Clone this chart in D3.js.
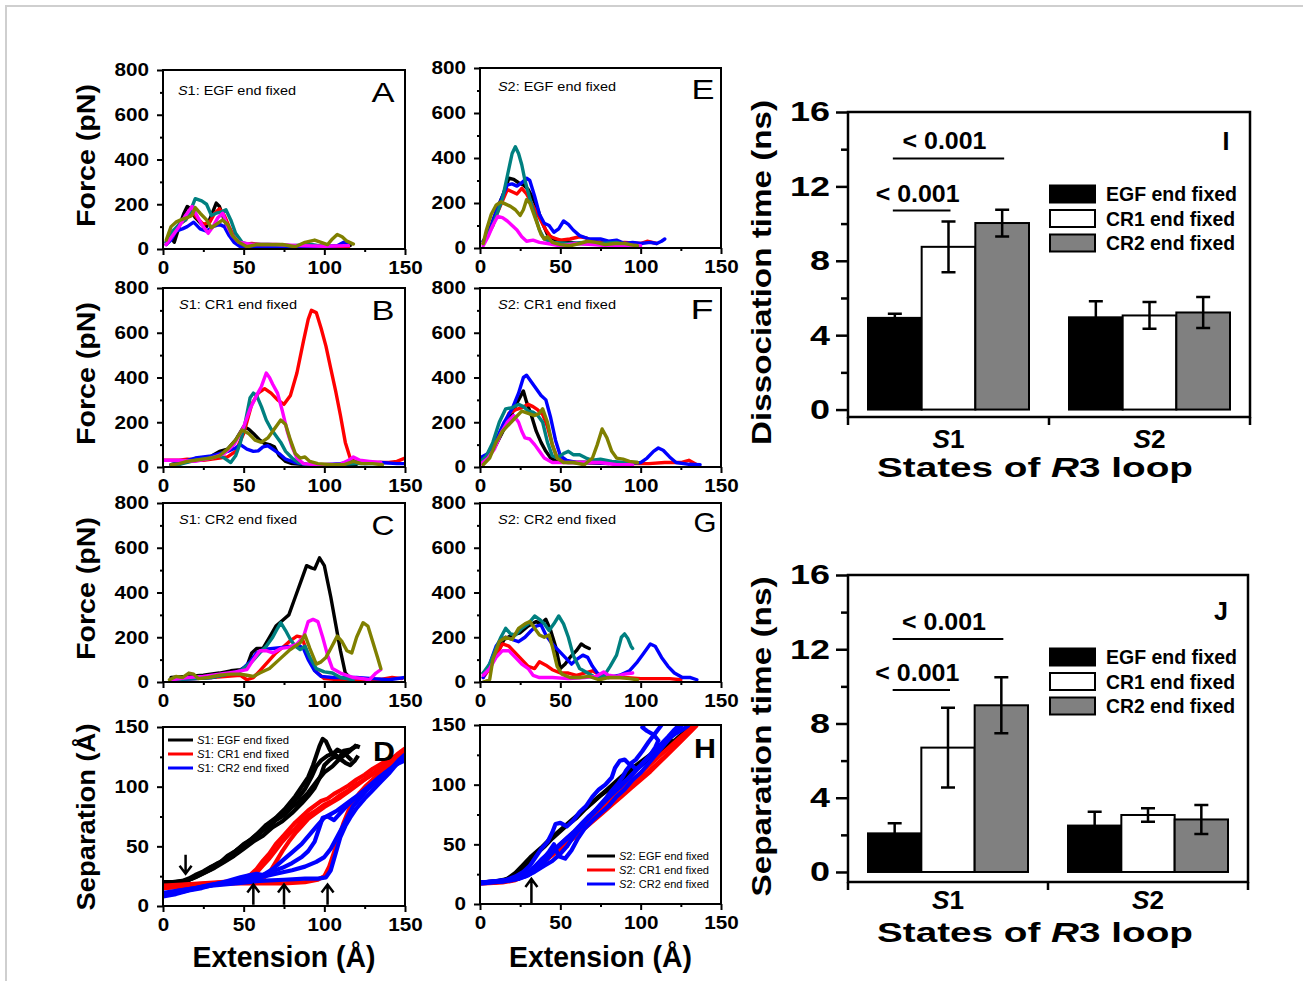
<!DOCTYPE html>
<html>
<head>
<meta charset="utf-8">
<script src="https://cdn.jsdelivr.net/npm/d3@7"></script>
<style>
  body { margin: 0; background: #fff; }
</style>
</head>
<body>
<svg id="fig" width="1303" height="981"></svg>
<script>
// ---------- data ----------
// force-extension traces, flat [x, y, x, y, ...], runs 1..6 in each panel
const forceA = [
  [2,30, 5,50, 7,30, 10,100, 13,160, 15,190, 17,180, 20,140, 24,110, 27,100, 30,150, 33,205, 35,190, 38,130, 41,80, 45,40, 48,20, 55,10, 70,12, 85,10, 100,12, 112,10, 116,15],
  [2,20, 6,70, 10,110, 14,130, 18,170, 21,140, 25,110, 29,120, 32,160, 35,180, 38,150, 41,100, 45,40, 50,20, 55,25, 65,15, 80,12, 95,10, 110,10, 115,12],
  [2,20, 5,40, 8,80, 12,90, 15,100, 19,120, 23,90, 27,80, 31,100, 35,110, 38,100, 41,60, 44,30, 48,10, 60,5, 80,8, 100,10, 108,15, 112,30, 115,20],
  [2,30, 6,80, 10,110, 14,130, 17,170, 20,225, 24,215, 27,200, 30,150, 33,160, 36,165, 39,175, 42,130, 45,70, 49,30, 53,20, 65,20, 80,15, 92,20, 100,10],
  [2,20, 6,60, 10,100, 14,150, 18,190, 21,150, 24,110, 28,70, 31,100, 34,140, 37,160, 40,100, 43,60, 47,30, 55,20, 70,20, 85,15, 100,12, 115,15],
  [2,40, 5,100, 8,120, 11,130, 15,140, 18,150, 20,185, 23,160, 27,130, 30,95, 33,110, 37,130, 40,110, 43,60, 47,30, 52,10, 58,20, 66,20, 74,20, 82,10, 88,30, 94,40, 98,30, 102,20, 105,45, 108,65, 111,55, 114,35, 118,22]
];
const forceB = [
  [5,10, 12,20, 20,30, 28,40, 35,70, 40,80, 45,120, 50,180, 53,170, 56,150, 60,120, 63,105, 66,100, 69,90, 72,50, 76,25, 80,15, 90,10, 105,10, 120,12],
  [0,30, 10,30, 15,35, 25,30, 35,40, 40,45, 45,70, 50,150, 55,280, 59,330, 63,350, 67,330, 71,300, 75,280, 79,320, 83,420, 87,560, 90,660, 92,700, 95,690, 98,620, 101,540, 104,440, 107,340, 110,230, 113,110, 116,40, 120,20, 130,20, 140,20, 145,25, 150,40],
  [5,10, 15,30, 20,40, 25,45, 30,50, 35,60, 40,70, 45,85, 48,100, 52,80, 56,70, 59,72, 62,90, 65,95, 68,80, 72,60, 76,35, 82,20, 90,10, 100,10, 110,15, 118,25, 125,15, 135,20, 145,15, 150,15],
  [5,0, 12,15, 20,30, 28,40, 35,50, 38,40, 42,20, 45,50, 48,110, 51,200, 54,310, 56,330, 58,320, 61,270, 64,210, 67,170, 70,140, 73,110, 76,70, 80,40, 84,20, 90,10, 105,10, 120,15, 135,15],
  [0,30, 10,30, 20,25, 30,40, 38,60, 44,100, 50,180, 54,260, 58,320, 61,360, 64,420, 66,400, 68,370, 71,330, 74,250, 77,160, 80,90, 83,40, 87,15, 95,10, 110,12, 115,30, 118,45, 122,30, 128,25, 135,20],
  [5,10, 10,15, 15,25, 20,30, 25,35, 30,40, 35,50, 40,80, 45,120, 49,165, 53,150, 57,120, 61,110, 65,130, 69,170, 73,210, 76,190, 79,120, 82,60, 85,40, 88,45, 91,25, 96,15, 105,10, 112,10, 118,25, 123,15, 130,15, 136,10]
];
const forceC = [
  [5,20, 15,25, 25,30, 35,40, 42,50, 48,55, 52,70, 55,130, 58,150, 62,150, 66,200, 70,250, 74,275, 78,300, 82,380, 86,460, 89,520, 92,510, 94,505, 97,555, 100,520, 102,450, 104,380, 107,260, 110,140, 113,40, 117,10],
  [5,10, 20,15, 30,20, 40,25, 48,30, 52,10, 56,20, 60,50, 65,90, 70,130, 75,160, 79,185, 83,205, 86,200, 88,160, 91,100, 95,45, 100,15, 110,10, 125,10, 135,12, 142,20, 148,15],
  [5,10, 20,15, 30,20, 40,35, 48,50, 54,90, 58,130, 62,145, 68,150, 74,155, 80,160, 84,165, 87,150, 90,100, 94,50, 98,25, 105,20, 120,20, 130,15, 140,10, 150,20],
  [5,10, 20,15, 30,20, 40,35, 48,50, 55,90, 60,130, 64,160, 68,200, 71,240, 73,265, 76,230, 79,190, 82,160, 85,145, 88,160, 91,110, 95,60, 100,45, 105,40, 110,20, 118,10],
  [5,10, 15,20, 25,25, 35,35, 45,45, 52,55, 56,100, 60,140, 64,140, 68,130, 73,150, 78,155, 83,170, 87,200, 90,270, 93,280, 96,270, 99,200, 102,120, 105,60, 110,40, 118,20, 124,15, 128,10, 132,40, 135,55],
  [4,10, 8,25, 12,20, 16,40, 19,35, 22,15, 28,20, 35,30, 42,35, 48,35, 52,30, 56,25, 60,40, 66,60, 72,100, 78,140, 82,160, 85,175, 88,210, 91,150, 95,80, 98,90, 101,110, 104,150, 108,205, 111,180, 114,140, 117,130, 120,200, 124,265, 127,250, 130,180, 133,110, 135,60]
];
const forceE = [
  [2,30, 5,60, 8,120, 11,180, 14,230, 18,310, 21,305, 24,290, 27,280, 30,260, 33,220, 36,170, 39,110, 42,60, 46,40, 52,30, 60,20, 70,20],
  [2,20, 5,60, 8,100, 11,160, 14,210, 17,260, 20,250, 23,240, 26,265, 29,240, 32,200, 35,160, 38,120, 41,80, 44,50, 50,35, 56,40, 62,50, 66,45, 70,30, 80,20, 90,25, 100,20, 104,30, 110,20],
  [2,30, 6,80, 10,160, 14,230, 17,280, 20,285, 23,275, 26,290, 29,310, 31,300, 34,230, 37,150, 40,110, 43,100, 46,70, 49,85, 52,120, 55,105, 58,80, 62,55, 68,40, 75,40, 80,30, 85,35, 90,20, 95,25, 100,20, 106,25, 110,20, 113,30, 115,40],
  [2,20, 5,60, 8,100, 11,160, 14,220, 17,320, 20,420, 22,450, 24,420, 26,370, 28,300, 31,220, 34,150, 37,80, 40,40, 45,25, 55,20, 65,25, 75,20, 85,25, 92,10],
  [2,10, 5,50, 8,100, 11,140, 14,135, 17,120, 20,100, 23,80, 26,50, 29,30, 33,35, 37,25, 42,20, 50,10, 60,20, 70,15, 80,10, 90,12, 100,10],
  [2,20, 4,80, 7,150, 10,190, 13,205, 16,195, 19,185, 22,170, 25,145, 27,170, 29,215, 31,200, 33,160, 36,100, 38,60, 40,40, 42,50, 45,25, 50,15, 56,10, 62,20, 67,30, 72,25, 78,15, 84,20, 90,20, 96,12, 98,10]
];
const forceF = [
  [0,20, 5,40, 10,100, 15,170, 20,240, 24,300, 27,340, 29,290, 32,230, 35,160, 38,110, 41,70, 44,40, 48,25, 55,20, 65,20, 80,15],
  [0,30, 5,50, 10,100, 14,170, 18,240, 22,255, 26,265, 30,280, 33,270, 36,255, 39,235, 42,180, 45,100, 48,40, 52,25, 60,20, 75,20, 90,15, 105,15, 115,20, 125,20, 130,30, 135,10],
  [0,40, 5,60, 10,120, 15,200, 20,260, 24,330, 27,400, 29,410, 32,380, 35,350, 38,320, 41,300, 44,220, 47,120, 50,50, 54,30, 60,20, 70,20, 85,15, 100,20, 104,40, 108,70, 111,85, 114,75, 118,45, 122,20, 130,12, 137,10],
  [0,20, 4,50, 8,110, 12,200, 16,260, 20,265, 24,280, 27,270, 30,250, 33,245, 36,230, 39,200, 42,110, 45,50, 48,40, 52,60, 55,70, 58,55, 62,55, 66,40, 70,30, 75,35, 82,25, 90,20, 98,20],
  [0,10, 5,40, 9,80, 13,150, 17,200, 21,230, 24,200, 26,160, 28,130, 31,125, 34,100, 37,70, 40,40, 45,20, 55,20, 65,20, 75,20, 85,10, 95,10],
  [2,10, 6,40, 10,110, 14,160, 18,190, 22,220, 26,250, 30,240, 34,230, 37,240, 39,260, 42,200, 45,100, 48,40, 52,20, 58,20, 65,10, 70,40, 73,100, 76,170, 79,130, 82,70, 85,40, 89,35, 93,25, 98,20]
];
const forceG = [
  [2,40, 6,60, 10,120, 15,190, 20,210, 25,220, 30,250, 35,270, 38,260, 41,280, 44,230, 47,160, 50,60, 53,80, 56,110, 60,140, 63,170, 65,160, 68,150],
  [2,20, 6,60, 10,120, 14,170, 18,160, 22,130, 26,100, 30,70, 34,60, 37,90, 41,75, 45,55, 50,40, 55,40, 60,30, 65,40, 70,50, 75,30, 80,20, 90,20, 100,15, 110,15, 118,15, 125,10],
  [2,20, 6,80, 10,160, 13,190, 16,200, 20,190, 24,180, 28,200, 32,230, 35,250, 38,255, 41,210, 45,170, 49,140, 53,110, 57,80, 60,100, 64,120, 67,110, 70,70, 74,30, 80,20, 87,30, 93,50, 98,90, 102,130, 106,170, 109,160, 113,110, 117,70, 121,40, 126,20, 131,20, 135,10],
  [2,40, 6,80, 10,150, 13,200, 16,240, 19,215, 22,210, 26,240, 30,260, 34,295, 37,280, 40,260, 43,230, 46,260, 49,295, 52,260, 55,200, 58,120, 62,60, 67,40, 72,20, 77,25, 81,70, 85,120, 88,200, 90,215, 92,195, 94,160, 95,150],
  [2,30, 6,60, 10,110, 14,140, 18,140, 22,110, 26,80, 30,60, 33,30, 37,20, 45,20, 55,15, 65,20, 72,25, 77,45, 80,30, 85,25, 90,35, 95,40],
  [2,0, 6,10, 8,100, 12,180, 16,200, 20,190, 24,240, 28,260, 31,270, 34,240, 37,210, 40,200, 43,210, 45,160, 48,70, 51,35, 56,20, 62,20, 68,25, 74,10, 80,20, 87,20, 93,15, 98,10]
];

// separation-extension traces (D: S1, H: S2)
const sepD_EGF = [
  [0,20, 6,20, 12,21, 16,23, 20,26, 25,29, 30,33, 35,36, 40,42, 45,46, 50,52, 55,56, 60,62, 65,66, 70,72, 75,76, 80,83, 85,88, 90,95, 95,104, 100,112, 105,117, 110,124, 115,129, 120,135],
  [0,19, 8,20, 14,21, 20,24, 26,28, 32,32, 38,37, 44,42, 50,48, 56,54, 62,59, 68,66, 74,71, 80,78, 86,86, 90,92, 94,99, 98,110, 100,118, 103,122, 106,125, 109,124, 112,130, 116,131, 120,134, 122,133],
  [0,20, 10,20, 16,22, 22,26, 28,31, 34,36, 40,40, 46,47, 52,53, 58,60, 64,68, 70,74, 76,82, 82,92, 86,100, 90,108, 93,118, 95,126, 97,134, 99,140, 101,138, 103,132, 105,127, 108,131, 111,129, 114,126, 117,122],
  [0,20, 12,20, 18,23, 24,27, 30,31, 36,36, 42,43, 48,49, 54,55, 60,61, 66,68, 72,76, 78,84, 84,91, 88,98, 92,108, 95,117, 98,122, 102,126, 106,128, 110,123, 113,120, 116,118, 119,122, 121,126]
];
const sepD_CR1 = [
  [0,15, 10,16, 20,18, 30,19, 40,20, 48,22, 54,26, 58,31, 62,38, 66,44, 70,52, 74,58, 78,64, 82,70, 86,75, 90,80, 94,84, 98,88, 102,90, 106,94, 110,97, 115,101, 120,106, 125,110, 130,115, 135,119, 140,123, 145,126, 150,130],
  [0,17, 12,18, 24,19, 36,20, 46,21, 54,23, 58,28, 62,34, 66,40, 70,47, 74,54, 78,60, 82,65, 86,71, 90,76, 95,80, 100,85, 105,88, 110,93, 115,97, 120,102, 126,107, 132,112, 138,118, 144,124, 150,128],
  [0,16, 15,18, 30,19, 45,20, 56,21, 62,23, 66,28, 70,37, 74,46, 78,54, 82,61, 86,67, 90,73, 95,78, 100,83, 105,87, 110,91, 115,96, 120,101, 125,106, 130,111, 135,116, 140,121, 145,127, 150,132],
  [0,15, 15,17, 30,18, 45,19, 60,19, 75,19, 88,20, 96,22, 100,25, 103,33, 106,45, 109,57, 112,70, 115,80, 118,88, 122,95, 126,101, 130,106, 135,112, 140,118, 145,124, 148,130]
];
const sepD_CR2 = [
  [0,8, 8,10, 16,13, 24,15, 32,18, 40,21, 48,24, 54,26, 58,27, 62,26, 68,29, 74,32, 80,36, 86,41, 90,46, 94,54, 97,66, 99,74, 102,75, 106,72, 110,78, 114,84, 118,89, 123,94, 128,99, 133,106, 138,112, 144,118, 150,124],
  [0,10, 10,13, 20,15, 30,18, 40,20, 50,22, 60,24, 70,27, 80,30, 88,33, 95,37, 100,41, 104,48, 108,58, 112,68, 115,76, 118,84, 122,90, 127,98, 132,104, 137,110, 142,116, 146,122, 150,127],
  [0,9, 12,12, 24,16, 36,19, 48,22, 56,24, 62,26, 68,31, 74,38, 80,45, 86,52, 91,60, 96,68, 100,74, 104,77, 108,80, 112,84, 117,89, 122,94, 128,101, 134,108, 140,114, 145,119, 150,122],
  [0,11, 15,14, 30,17, 45,19, 60,21, 75,22, 88,23, 96,23, 101,24, 104,30, 107,44, 110,58, 113,67, 116,74, 120,82, 125,90, 130,97, 135,104, 140,111, 145,119, 150,126]
];
const sepH_EGF = [
  [0,18, 8,18, 15,20, 20,23, 25,28, 30,34, 35,42, 40,48, 45,55, 50,61, 55,67, 60,72, 65,79, 70,85, 75,91, 80,97, 85,103, 90,109, 95,114, 100,119, 105,124, 110,129, 115,134, 120,138],
  [0,18, 10,19, 17,21, 22,26, 27,33, 32,40, 38,47, 44,55, 50,62, 56,69, 62,76, 68,83, 74,90, 80,96, 86,102, 92,108, 98,114, 104,120, 110,126, 116,132, 122,138, 128,145, 132,150]
];
const sepH_CR1 = [
  [0,18, 10,18, 18,20, 24,22, 28,24, 32,28, 36,33, 40,38, 45,44, 50,50, 55,56, 60,62, 65,68, 70,74, 75,80, 80,86, 85,92, 90,98, 95,104, 100,110, 105,116, 110,122, 115,128, 120,134, 125,140, 130,146, 134,150],
  [0,18, 12,19, 20,20, 26,23, 31,27, 36,31, 42,38, 48,45, 54,52, 60,59, 66,66, 72,73, 78,80, 84,87, 90,94, 96,101, 102,108, 108,115, 114,122, 120,130, 126,138, 132,146, 135,150],
  [0,17, 14,18, 22,20, 28,24, 34,30, 40,36, 46,42, 52,48, 58,55, 64,62, 70,69, 76,76, 82,83, 88,90, 94,97, 100,104, 106,111, 112,119, 118,127, 124,135, 130,143, 135,150]
];
const sepH_CR2 = [
  [0,18, 10,19, 16,20, 22,23, 27,27, 31,32, 35,40, 38,46, 42,52, 45,60, 47,67, 50,68, 54,65, 58,70, 62,77, 66,82, 70,90, 74,96, 78,100, 82,106, 84,114, 87,120, 90,121, 93,117, 97,121, 101,128, 105,136, 109,143, 113,150],
  [0,18, 12,19, 20,20, 28,23, 34,27, 40,32, 45,36, 50,42, 54,48, 58,56, 62,63, 66,70, 70,76, 74,82, 78,88, 82,95, 86,101, 89,107, 91,112, 94,117, 97,113, 100,116, 104,122, 108,128, 112,132, 117,138, 122,143, 127,147, 130,150],
  [0,17, 14,19, 22,21, 28,25, 33,30, 38,37, 43,43, 48,48, 53,54, 58,60, 63,67, 68,74, 73,80, 78,87, 83,93, 88,99, 93,106, 98,113, 102,119, 106,125, 109,131, 111,137, 108,142, 104,145, 101,148, 102,150],
  [0,18, 15,19, 24,21, 30,24, 36,30, 42,38, 47,46, 52,52, 57,58, 62,64, 67,71, 72,78, 77,85, 82,92, 87,99, 92,105, 97,112, 102,119, 107,126, 112,133, 117,140, 121,146, 124,150],
  [0,18, 16,20, 26,23, 33,28, 38,35, 43,44, 46,50, 49,40, 53,38, 57,45, 61,55, 65,63, 70,70, 75,76, 80,82, 85,90, 90,96, 95,104, 100,110, 105,118, 110,126, 115,134, 120,142, 124,148, 126,150]
];

// arrows (extension positions, Å)
const arrowsD_down = [14];
const arrowsD_up = [56, 75, 102];
const arrowsH_up = [32];

// bar charts
const states = ["S1", "S2"];
const fixedEnds = ["EGF end fixed", "CR1 end fixed", "CR2 end fixed"];
const dissocMean = [[4.93, 8.75, 10.03], [4.96, 5.06, 5.22]];
const dissocErr  = [[0.22, 1.36, 0.72], [0.86, 0.72, 0.83]];
const sepMean    = [[2.08, 6.70, 8.98], [2.50, 3.07, 2.83]];
const sepErr     = [[0.54, 2.15, 1.51], [0.75, 0.36, 0.78]];
const dissocSig  = [13.5, 10.7];   // heights of the two "< 0.001" brackets
const sepSig     = [12.55, 9.8];

// ---------- drawing ----------
const FONT = '"Liberation Sans", Arial, Helvetica, sans-serif';
const runColors = ["#000000", "#ff0000", "#0000ff", "#008080", "#ff00ff", "#808000"];
const sepColors = ["#000000", "#ff0000", "#0000ff"];
const barFills = ["#000000", "#ffffff", "#808080"];

const svg = d3.select("#fig").attr("font-family", FONT);
svg.append("rect").attr("width", 1303).attr("height", 981).attr("fill", "#fff");
svg.append("rect").attr("x", 6).attr("y", 6).attr("width", 1320).attr("height", 1000)
  .attr("fill", "none").attr("stroke", "#cfcfcf").attr("stroke-width", 2);

const pairs = flat => d3.range(0, flat.length, 2).map(i => [flat[i], flat[i + 1]]);

// text with optional italic pieces, squeezed/stretched to a measured length
function label(parent, x, y, parts, o) {
  const t = parent.append("text")
    .attr("x", x).attr("y", y)
    .attr("font-size", o.size)
    .attr("font-weight", o.weight || "bold")
    .attr("text-anchor", o.anchor || "start")
    .attr("fill", "#000");
  if (o.len) t.attr("textLength", o.len).attr("lengthAdjust", "spacingAndGlyphs");
  if (o.rot) t.attr("transform", `rotate(${o.rot},${x},${y})`);
  (typeof parts === "string" ? [[parts, false]] : parts).forEach(p => {
    t.append("tspan").attr("font-style", p[1] ? "italic" : null).text(p[0]);
  });
  return t;
}

function styleAxis(g, size, perChar) {
  g.select(".domain").remove();
  g.attr("font-family", FONT).attr("font-size", size).attr("font-weight", "bold");
  g.selectAll("line").attr("stroke-width", 2);
  g.selectAll(".tick text").each(function (d) {
    const s = String(d);
    d3.select(this).attr("textLength", s.length * perChar).attr("lengthAdjust", "spacingAndGlyphs");
  });
}

let clipId = 0;
function xyPanel(box, yMax, yMajor, yMinor) {
  const [x0, y0, x1, y1] = box;
  const x = d3.scaleLinear().domain([0, 150]).range([x0, x1]);
  const y = d3.scaleLinear().domain([0, yMax]).range([y1, y0]);
  const g = svg.append("g");

  const xa = g.append("g").attr("transform", `translate(0,${y1})`)
    .call(d3.axisBottom(x).tickValues([0, 50, 100, 150]).tickSize(6).tickPadding(6));
  styleAxis(xa, 18, 11.5);
  const xm = g.append("g").attr("transform", `translate(0,${y1})`)
    .call(d3.axisBottom(x).tickValues([25, 75, 125]).tickSize(3).tickFormat(""));
  styleAxis(xm, 18, 0);

  const ya = g.append("g").attr("transform", `translate(${x0},0)`)
    .call(d3.axisLeft(y).tickValues(yMajor).tickSize(6).tickPadding(8));
  styleAxis(ya, 18, 11.5);
  const ym = g.append("g").attr("transform", `translate(${x0},0)`)
    .call(d3.axisLeft(y).tickValues(yMinor).tickSize(3).tickFormat(""));
  styleAxis(ym, 18, 0);

  const id = "clip" + (clipId++);
  g.append("clipPath").attr("id", id).append("rect")
    .attr("x", x0).attr("y", y0).attr("width", x1 - x0).attr("height", y1 - y0);
  const plot = g.append("g").attr("clip-path", `url(#${id})`);

  g.append("rect").attr("x", x0).attr("y", y0).attr("width", x1 - x0).attr("height", y1 - y0)
    .attr("fill", "none").attr("stroke", "#000").attr("stroke-width", 2);
  return { g, plot, x, y };
}

const line = (x, y) => d3.line().x(d => x(d[0])).y(d => y(d[1]));

// force panels
const forcePanels = [
  { data: forceA, box: [163, 70, 405, 249], st: "S", num: "1", end: ": EGF end fixed", letter: "A", lx: 383, ly: 102, tx: 178, ty: 95 },
  { data: forceB, box: [163, 288, 405, 467], st: "S", num: "1", end: ": CR1 end fixed", letter: "B", lx: 383, ly: 320, tx: 179, ty: 309 },
  { data: forceC, box: [163, 503, 405, 682], st: "S", num: "1", end: ": CR2 end fixed", letter: "C", lx: 383, ly: 535, tx: 179, ty: 524 },
  { data: forceE, box: [480, 68, 721, 248], st: "S", num: "2", end: ": EGF end fixed", letter: "E", lx: 703, ly: 99, tx: 498, ty: 91 },
  { data: forceF, box: [480, 288, 721, 467], st: "S", num: "2", end: ": CR1 end fixed", letter: "F", lx: 702, ly: 319, tx: 498, ty: 309 },
  { data: forceG, box: [480, 503, 721, 682], st: "S", num: "2", end: ": CR2 end fixed", letter: "G", lx: 705, ly: 532, tx: 498, ty: 524 }
];

forcePanels.forEach(p => {
  const P = xyPanel(p.box, 800, [0, 200, 400, 600, 800], [100, 300, 500, 700]);
  p.data.forEach((run, i) => {
    P.plot.append("path").datum(pairs(run)).attr("d", line(P.x, P.y))
      .attr("fill", "none").attr("stroke", runColors[i]).attr("stroke-width", 3.4)
      .attr("stroke-linejoin", "round").attr("stroke-linecap", "round");
  });
  label(P.g, p.tx, p.ty, [[p.st, true], [p.num + p.end, false]], { size: 13, weight: "normal", len: 118 });
  label(P.g, p.lx, p.ly, p.letter, { size: 28, weight: "normal", anchor: "middle", len: 23 });
});

// y titles for force panels
[[70, 249], [288, 467], [503, 682]].forEach(([t, b]) => {
  label(svg, 95, (t + b) / 2 - 4, "Force (pN)", { size: 26, anchor: "middle", len: 143, rot: -90 });
});

// separation panels
function arrow(g, x, yFrom, yTo) {
  const dir = yTo > yFrom ? 1 : -1;
  g.append("path")
    .attr("d", `M${x},${yFrom}L${x},${yTo}M${x - 6},${yTo - dir * 8}L${x},${yTo}L${x + 6},${yTo - dir * 8}`)
    .attr("fill", "none").attr("stroke", "#000").attr("stroke-width", 2.5);
}

function sepPanel(box, sets, legendAt, letter, lpos) {
  const P = xyPanel(box, 150, [0, 50, 100, 150], [25, 75, 125]);
  sets.forEach((traces, i) => {
    traces.forEach(tr => {
      P.plot.append("path").datum(pairs(tr)).attr("d", line(P.x, P.y))
        .attr("fill", "none").attr("stroke", sepColors[i]).attr("stroke-width", 4.2)
        .attr("stroke-linejoin", "round");
    });
  });
  const names = [": EGF end fixed", ": CR1 end fixed", ": CR2 end fixed"];
  names.forEach((n, i) => {
    const yy = legendAt.y + i * 14;
    P.g.append("line").attr("x1", legendAt.x).attr("x2", legendAt.x + legendAt.w)
      .attr("y1", yy).attr("y2", yy).attr("stroke", sepColors[i]).attr("stroke-width", 3);
    label(P.g, legendAt.x + legendAt.w + 4, yy + 4, [[legendAt.st, true], [legendAt.num + n, false]],
      { size: 10, weight: "normal", len: legendAt.len });
  });
  label(P.g, lpos[0], lpos[1], letter, { size: 27, anchor: "middle", len: 22 });
  label(svg, (box[0] + box[2]) / 2, 967, "Extension (Å)", { size: 29, anchor: "middle", len: 183 });
  return P;
}

const D = sepPanel([163, 727, 405, 906], [sepD_EGF, sepD_CR1, sepD_CR2],
  { x: 168, y: 740, w: 25, st: "S", num: "1", len: 92 }, "D", [384, 761]);
arrowsD_down.forEach(v => arrow(D.g, D.x(v), D.y(43), D.y(27)));
arrowsD_up.forEach(v => arrow(D.g, D.x(v), D.y(1), D.y(18)));

const H = sepPanel([480, 725, 721, 904], [sepH_EGF, sepH_CR1, sepH_CR2],
  { x: 587, y: 856, w: 28, st: "S", num: "2", len: 90 }, "H", [705, 758]);
arrowsH_up.forEach(v => arrow(H.g, H.x(v), H.y(0), H.y(21)));

label(svg, 95, 817, "Separation (Å)", { size: 26, anchor: "middle", len: 187, rot: -90 });

// bar panels
function barPanel(box, yLow, means, errs, sig, yTitle, yTitleLen, letter, lay) {
  const [x0, y0, x1, y1] = box;
  const y = d3.scaleLinear().domain([yLow, 16]).range([y1, y0]);
  const xb = d3.scaleBand().domain(states).range([x0, x1]);
  const xs = d3.scaleBand().domain(fixedEnds).range([20, xb.bandwidth() - 20]);
  const g = svg.append("g");

  const ya = g.append("g").attr("transform", `translate(${x0},0)`)
    .call(d3.axisLeft(y).tickValues([0, 4, 8, 12, 16]).tickSize(12).tickPadding(6));
  styleAxis(ya, 28, 20);
  const ym = g.append("g").attr("transform", `translate(${x0},0)`)
    .call(d3.axisLeft(y).tickValues([2, 6, 10, 14]).tickSize(7).tickFormat(""));
  styleAxis(ym, 28, 0);
  ya.selectAll("line").attr("stroke-width", 2.5);
  ym.selectAll("line").attr("stroke-width", 2.5);

  // category boundary ticks and labels
  [x0, xb("S2"), x1].forEach(v => {
    g.append("line").attr("x1", v).attr("x2", v).attr("y1", y1).attr("y2", y1 + 8)
      .attr("stroke", "#000").attr("stroke-width", 2.5);
  });
  states.forEach(s => {
    label(g, xb(s) + xb.bandwidth() / 2, lay.catY, [[s[0], true], [s.slice(1), false]],
      { size: 26, anchor: "middle", len: 32 });
  });

  states.forEach((s, si) => {
    fixedEnds.forEach((f, fi) => {
      const v = means[si][fi], e = errs[si][fi];
      const bx = xb(s) + xs(f), bw = xs.bandwidth(), cx = bx + bw / 2;
      g.append("rect").attr("x", bx).attr("y", y(v)).attr("width", bw).attr("height", y(0) - y(v))
        .attr("fill", barFills[fi]).attr("stroke", "#000").attr("stroke-width", 2);
      g.append("path")
        .attr("d", `M${cx},${y(v + e)}L${cx},${y(v - e)}M${cx - 7},${y(v + e)}L${cx + 7},${y(v + e)}M${cx - 7},${y(v - e)}L${cx + 7},${y(v - e)}`)
        .attr("stroke", "#000").attr("stroke-width", 2.5).attr("fill", "none");
    });
  });

  // significance brackets
  const c = fi => xb("S1") + xs(fixedEnds[fi]) + xs.bandwidth() / 2;
  [[0, 2, sig[0]], [0, 1, sig[1]]].forEach(([a, b, lv]) => {
    g.append("line").attr("x1", c(a) - 2).attr("x2", c(b) + 2).attr("y1", y(lv)).attr("y2", y(lv))
      .attr("stroke", "#000").attr("stroke-width", 2);
    label(g, (c(a) + c(b)) / 2 - 4, y(lv) - 9, "< 0.001", { size: 23, anchor: "middle", len: 84 });
  });

  // legend
  fixedEnds.forEach((f, i) => {
    const cy = lay.legY + i * 24.5;
    g.append("rect").attr("x", 1050).attr("y", cy - 8.5).attr("width", 45).attr("height", 17)
      .attr("fill", barFills[i]).attr("stroke", "#000").attr("stroke-width", 2);
    label(g, 1106, cy + 7, f, { size: 20, len: i === 0 ? 131 : 129 });
  });

  g.append("rect").attr("x", x0).attr("y", y0).attr("width", x1 - x0).attr("height", y1 - y0)
    .attr("fill", "none").attr("stroke", "#000").attr("stroke-width", 2.5);

  label(g, lay.letX, lay.letY, letter, { size: 25, anchor: "middle" });
  label(g, 1035, lay.titleY, [["States of ", false], ["R", true], ["3 loop", false]],
    { size: 28, anchor: "middle", len: 316 });
  label(svg, 771, (y0 + y1) / 2 + 8, yTitle, { size: 28, anchor: "middle", len: yTitleLen, rot: -90 });
}

barPanel([848, 112, 1250, 417], -0.4, dissocMean, dissocErr, dissocSig,
  "Dissociation time (ns)", 345, "I", { catY: 448, titleY: 477, legY: 194, letX: 1226, letY: 150 });
barPanel([848, 575, 1248, 882], -0.54, sepMean, sepErr, sepSig,
  "Separation time (ns)", 320, "J", { catY: 909, titleY: 942, legY: 657, letX: 1221, letY: 620 });
</script>
</body>
</html>
